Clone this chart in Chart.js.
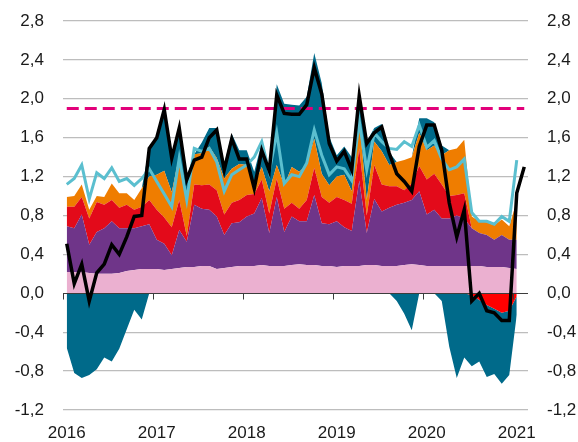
<!DOCTYPE html>
<html>
<head>
<meta charset="utf-8">
<script src="https://cdn.jsdelivr.net/npm/chart.js@4.4.1/dist/chart.umd.min.js"></script>
<style>
  html, body { margin: 0; padding: 0; background: #fff; }
  canvas { display: block; }
</style>
</head>
<body>
<canvas id="chart" width="578" height="442"></canvas>
<script>
// monthly data, Jan 2016 .. Feb 2021
const years = [2016, 2017, 2018, 2019, 2020, 2021];
const months = [];
years.forEach(y => { for (let m = 1; m <= 12; m++) months.push(y + '-' + String(m).padStart(2, '0')); });
months.length = 62;

const yTicks = [-1.2, -0.8, -0.4, 0, 0.4, 0.8, 1.2, 1.6, 2.0, 2.4, 2.8];
const targetLevel = 1.9;

// stacked contributions (Jan 2016 .. Jan 2021)
const pink = [0.22,0.22,0.22,0.21,0.20,0.20,0.20,0.21,0.23,0.24,
  0.25,0.25,0.25,0.24,0.25,0.26,0.27,0.27,0.28,0.28,
  0.25,0.26,0.27,0.28,0.28,0.28,0.29,0.28,0.28,0.28,
  0.29,0.30,0.29,0.29,0.28,0.28,0.27,0.28,0.28,0.28,
  0.29,0.29,0.28,0.28,0.28,0.29,0.30,0.29,0.28,0.28,
  0.28,0.28,0.28,0.28,0.28,0.28,0.27,0.27,0.27,0.26,
  0.25];
const purple = [0.47,0.45,0.59,0.29,0.43,0.47,0.54,0.46,0.44,0.43,
  0.44,0.46,0.30,0.27,0.14,0.39,0.26,0.64,0.59,0.58,
  0.54,0.34,0.45,0.45,0.51,0.54,0.69,0.34,0.71,0.35,
  0.50,0.44,0.45,0.72,0.44,0.43,0.47,0.40,0.36,0.88,
  0.33,0.68,0.56,0.60,0.63,0.64,0.66,0.76,0.53,0.58,
  0.49,0.49,0.52,0.49,0.39,0.34,0.33,0.28,0.33,0.29,
  0.30];
const redPos = [0.20,0.22,0.18,0.27,0.31,0.24,0.22,0.21,0.24,0.19,
  0.20,0.25,0.31,0.27,0.29,0.31,0.06,0.21,0.24,0.26,
  0.27,0.21,0.21,0.23,0.22,0.20,0.19,0.20,0.19,0.24,
  0.14,0.13,0.22,0.28,0.27,0.22,0.25,0.28,0.28,0.33,
  0.18,0.35,0.28,0.22,0.19,0.13,0.17,0.26,0.36,0.37,
  0.35,0.23,0.21,0.26,0,0,0,0,0,0,
  0];
const orange = [0.10,0.11,0.13,0.09,0.06,0.08,0.17,0.15,0.12,0.10,
  0.19,0.24,0.36,0.48,0.36,0.46,0.43,0.31,0.33,0.39,
  0.33,0.37,0.35,0.37,0.31,0.10,0.13,0.23,0.14,0.24,
  0.37,0.38,0.36,0.30,0.24,0.18,0.21,0.26,0.13,0.28,
  0.16,0.24,0.34,0.22,0.25,0.31,0.27,0.34,0.30,0.29,
  0.30,0.47,0.48,0.55,0.12,0.12,0.13,0.15,0.16,0.14,
  0.40];
const tealPos = [0,0,0,0,0,0,0,0,0,0,
  0,0.30,0.40,0.67,0.38,0.31,0.18,0,0.11,0.19,
  0.31,0.15,0.36,0.14,0.15,0.13,0.25,0.25,0.83,0.84,
  0.64,0.68,0.70,0.88,0.93,0.50,0.22,0.29,0.35,0.28,
  0.60,0.14,0.28,0.13,0,0,0,0.15,0.33,0.24,
  0.10,0,0,0,0,0,0,0,0,0,
  0];
const redNeg = [0,0,0,0,0,0,0,0,0,0,
  0,0,0,0,0,0,0,0,0,0,
  0,0,0,0,0,0,0,0,0,0,
  0,0,0,0,0,0,0,0,0,0,
  0,0,0,0,0,0,0,0,0,0,
  0,0,0,0,-0.02,-0.07,-0.12,-0.16,-0.20,-0.18,
  -0.03];
const tealNeg = [-0.56,-0.82,-0.87,-0.84,-0.78,-0.66,-0.70,-0.57,-0.37,-0.17,
  -0.27,0,0,0,0,0,0,0,0,0,
  0,0,0,0,0,0,0,0,0,0,
  0,0,0,0,0,0,0,0,0,0,
  0,0,0,0,-0.08,-0.21,-0.38,0,0,0,
  -0.08,-0.55,-0.87,-0.66,-0.73,-0.63,-0.74,-0.67,-0.73,-0.66,
  -0.19];

// headline (black) and core (light blue)
const headline = [0.51,0.10,0.30,-0.08,0.21,0.30,0.50,0.40,0.58,0.79,
  0.80,1.49,1.60,1.89,1.39,1.70,1.17,1.37,1.40,1.60,
  1.68,1.27,1.59,1.38,1.38,1.08,1.47,1.26,2.04,1.85,
  1.84,1.84,1.94,2.32,2.05,1.54,1.36,1.46,1.27,2.03,
  1.54,1.65,1.71,1.44,1.23,1.15,1.05,1.51,1.73,1.73,
  1.47,0.93,0.58,0.86,-0.08,0.00,-0.18,-0.20,-0.28,-0.28,
  1.03,1.30];
const core = [1.12,1.18,1.32,0.97,1.24,1.18,1.29,1.15,1.18,1.11,
  1.18,1.28,1.15,1.02,0.89,1.39,0.96,1.49,1.46,1.49,
  1.35,1.05,1.22,1.27,1.32,1.40,1.56,1.25,1.65,1.13,
  1.22,1.20,1.34,1.68,1.42,1.22,1.30,1.28,1.16,1.77,
  1.27,1.65,1.56,1.49,1.48,1.56,1.51,1.73,1.50,1.57,
  1.38,1.27,1.30,1.38,0.83,0.74,0.74,0.71,0.79,0.74,
  1.37];

Chart.defaults.font.family = '"Liberation Sans", Arial, sans-serif';
Chart.defaults.color = '#1a1a1a';

function area(data, color, fill, stack) {
  return {
    data: data, backgroundColor: color, borderColor: 'rgba(0,0,0,0)', borderWidth: 1,
    fill: fill, stack: stack, order: 3, pointRadius: 0, tension: 0
  };
}

// zero line with year tick marks, drawn over the areas but under the lines
const zeroAxis = {
  id: 'zeroAxis',
  beforeDatasetDraw(chart, args) {
    if (args.index !== 2) return;
    const { ctx, chartArea, scales } = chart;
    const y0 = Math.round(scales.y.getPixelForValue(0)) + 0.5;
    const step = scales.x.getPixelForValue(1) - scales.x.getPixelForValue(0);
    ctx.save();
    ctx.strokeStyle = '#3c3c3c';
    ctx.lineWidth = 1;
    ctx.beginPath();
    ctx.moveTo(chartArea.left, y0);
    ctx.lineTo(chartArea.right, y0);
    months.forEach((m, i) => {
      if (m.endsWith('-01')) {
        const x = Math.round(scales.x.getPixelForValue(i) - step / 2) + 0.5;
        ctx.moveTo(x, y0);
        ctx.lineTo(x, y0 + 6);
      }
    });
    ctx.stroke();
    ctx.restore();
  }
};

const fmt = v => Number(v).toFixed(1).replace('.', ',');
const setTicks = scale => { scale.ticks = yTicks.map(v => ({ value: v })); };
// fixed axis widths; the tick padding must not push the plot down
const fitY = w => s => { s.width = w; s.paddingTop = 0; s.paddingBottom = 0; };

new Chart(document.getElementById('chart'), {
  type: 'line',
  data: {
    labels: months,
    datasets: [
      { data: headline, borderColor: '#000000', borderWidth: 3.5, fill: false, stack: 'headline', order: 0, pointRadius: 0 },
      { data: months.map(() => targetLevel), borderColor: '#e2007a', borderWidth: 3, borderDash: [12, 6], fill: false, stack: 'target', order: 1, pointRadius: 0 },
      { data: core, borderColor: '#5bbfcf', borderWidth: 3, fill: false, stack: 'core', order: 2, pointRadius: 0 },
      area(pink, '#ebb0d0', 'origin', 'pos'),
      area(purple, '#6f3589', '-1', 'pos'),
      area(redPos, '#e30a1a', '-1', 'pos'),
      area(orange, '#ef7d00', '-1', 'pos'),
      area(tealPos, '#006a8a', '-1', 'pos'),
      area(redNeg, '#ff0000', 'origin', 'neg'),
      area(tealNeg, '#006a8a', '-1', 'neg')
    ]
  },
  options: {
    responsive: false,
    animation: false,
    layout: { padding: { top: 21, right: 0, bottom: 0, left: 0 } },
    elements: { line: { tension: 0 }, point: { radius: 0 } },
    plugins: { legend: { display: false }, tooltip: { enabled: false } },
    scales: {
      x: {
        offset: true,
        grid: { display: false, drawTicks: false },
        border: { display: false },
        ticks: {
          autoSkip: false, maxRotation: 0, minRotation: 0, padding: 13,
          font: { size: 17 },
          callback: (v, i) => months[i].endsWith('-01') ? months[i].slice(0, 4) : ''
        },
        afterFit: s => { s.height = 32; }
      },
      y: {
        stacked: true,
        min: -1.2, max: 2.8,
        afterBuildTicks: setTicks,
        grid: {
          drawTicks: false, lineWidth: 1.3,
          color: c => c.tick && c.tick.value === 0 ? 'rgba(0,0,0,0)' : '#bdbdbd'
        },
        border: { display: false },
        ticks: { padding: 19, font: { size: 17 }, callback: fmt },
        afterFit: fitY(63)
      },
      y2: {
        position: 'right',
        min: -1.2, max: 2.8,
        afterBuildTicks: setTicks,
        grid: { display: false, drawTicks: false },
        border: { display: false },
        ticks: { padding: 19, font: { size: 17 }, callback: fmt },
        afterFit: fitY(50)
      }
    }
  },
  plugins: [zeroAxis]
});
</script>
</body>
</html>
